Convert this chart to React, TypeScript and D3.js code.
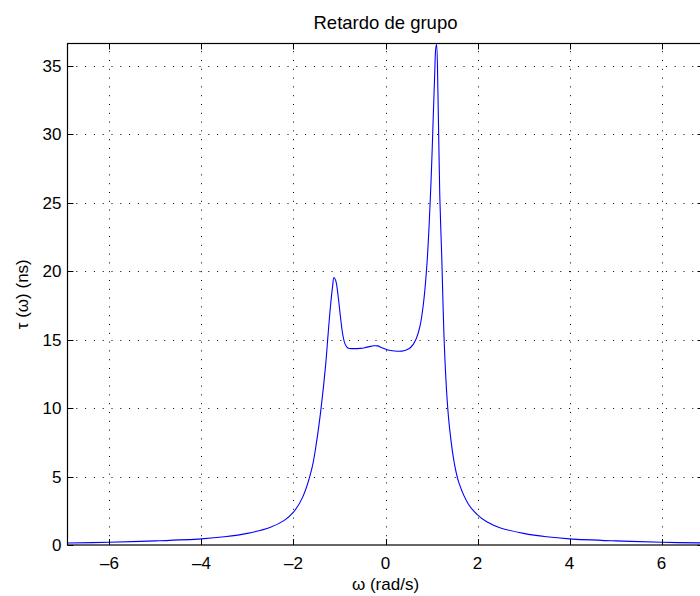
import React, { useEffect, useRef } from 'react';
import * as d3 from 'd3';

// frequency (rad/s) and group delay (ns)
const omega = [
  -6.91, -6, -5, -4, -3.5, -3, -2.5, -2.2, -2, -1.8, -1.6, -1.5, -1.4, -1.3, -1.25, -1.2,
  -1.15, -1.12, -1.08, -1.03, -0.98, -0.93, -0.88, -0.82, -0.7, -0.55, -0.45, -0.35, -0.25,
  -0.17, -0.08, 0.05, 0.2, 0.35, 0.45, 0.55, 0.65, 0.75, 0.83, 0.9, 0.95, 1.0, 1.04, 1.07,
  1.09, 1.11, 1.14, 1.18, 1.22, 1.28, 1.34, 1.4, 1.5, 1.6, 1.8, 2.0, 2.2, 2.5, 3, 3.5, 4, 5,
  6, 6.91,
];
const tau = [
  0.15, 0.2, 0.3, 0.45, 0.6, 0.85, 1.3, 1.8, 2.4, 3.5, 5.6, 7.5, 10.0, 13.2, 15.3, 17.3,
  18.9, 19.55, 19.3, 18.2, 16.7, 15.4, 14.7, 14.4, 14.35, 14.37, 14.42, 14.5, 14.56,
  14.55, 14.42, 14.25, 14.18, 14.17, 14.25, 14.45, 14.95, 16.0, 17.8, 20.5, 23.5, 27.5, 31.5, 34.5,
  36.2, 36.6, 33.0, 25.5, 21.3, 14.5, 10.6, 8.3, 5.9, 4.5, 3.0, 2.2, 1.7, 1.25, 0.85, 0.6, 0.45, 0.3,
  0.2, 0.15,
];
const xTicks = [-6, -4, -2, 0, 2, 4, 6];
const yTicks = [0, 5, 10, 15, 20, 25, 30, 35];

const W = 700;
const H = 596;
const margin = { left: 67.5, right: -3.5, top: 43.5, bottom: 51 };
const font = '"Liberation Sans", Arial, Helvetica, sans-serif';

const App = () => {
  const svgRef = useRef(null);

  useEffect(() => {
    const svg = d3.select(svgRef.current);
    svg.selectAll('*').remove();

    const x0 = margin.left;
    const x1 = W - margin.right;
    const y0 = H - margin.bottom;
    const y1 = margin.top;

    const x = d3.scaleLinear().domain([-2.2 * Math.PI, 2.2 * Math.PI]).range([x0, x1]);
    const y = d3.scaleLinear().domain([0, 36.65]).range([y0, y1]);

    svg.append('rect').attr('width', W).attr('height', H).attr('fill', '#fff');

    // grid
    const grid = svg.append('g').attr('stroke', '#000').attr('stroke-width', 1)
      .attr('stroke-dasharray', '1,7.8');
    grid.selectAll('.gx').data(xTicks).enter().append('line')
      .attr('x1', (d) => Math.round(x(d)) + 0.5).attr('x2', (d) => Math.round(x(d)) + 0.5)
      .attr('y1', y0).attr('y2', y1);
    grid.selectAll('.gy').data(yTicks.slice(1)).enter().append('line')
      .attr('y1', (d) => Math.round(y(d)) + 0.5).attr('y2', (d) => Math.round(y(d)) + 0.5)
      .attr('x1', x0).attr('x2', x1);

    // curve
    const line = d3.line<number>()
      .x((d) => x(omega[d]))
      .y((d) => y(tau[d]))
      .curve(d3.curveCatmullRom.alpha(0.5));
    svg.append('path')
      .datum(d3.range(omega.length))
      .attr('d', line)
      .attr('fill', 'none')
      .attr('stroke', '#0000ff')
      .attr('stroke-width', 1.1);

    // ticks (inward, on all four sides)
    const tk = svg.append('g').attr('stroke', '#000').attr('stroke-width', 1);
    xTicks.forEach((t) => {
      const px = Math.round(x(t)) + 0.5;
      tk.append('line').attr('x1', px).attr('x2', px).attr('y1', y0).attr('y2', y0 - 6);
      tk.append('line').attr('x1', px).attr('x2', px).attr('y1', y1).attr('y2', y1 + 6);
    });
    yTicks.forEach((t) => {
      const py = Math.round(y(t)) + 0.5;
      tk.append('line').attr('x1', x0).attr('x2', x0 + 6).attr('y1', py).attr('y2', py);
      tk.append('line').attr('x1', x1).attr('x2', x1 - 6).attr('y1', py).attr('y2', py);
    });

    // axes box
    svg.append('rect')
      .attr('x', x0).attr('y', y1).attr('width', x1 - x0).attr('height', y0 - y1)
      .attr('fill', 'none').attr('stroke', '#000').attr('stroke-width', 1.2);

    // tick labels
    const labels = svg.append('g').attr('font-family', font).attr('font-size', 17).attr('fill', '#000');
    labels.selectAll('.xl').data(xTicks).enter().append('text')
      .attr('x', (d) => x(d)).attr('y', y0 + 24)
      .attr('text-anchor', 'middle')
      .text((d) => (d < 0 ? '\u2013' + Math.abs(d) : String(d)));
    labels.selectAll('.yl').data(yTicks).enter().append('text')
      .attr('x', x0 - 6).attr('y', (d) => y(d) + 6)
      .attr('text-anchor', 'end')
      .text((d) => String(d));

    // title and axis labels
    svg.append('text').attr('x', (x0 + x1) / 2).attr('y', 29)
      .attr('text-anchor', 'middle').attr('font-family', font).attr('font-size', 18.5)
      .text('Retardo de grupo');
    svg.append('text').attr('x', (x0 + x1) / 2).attr('y', 590)
      .attr('text-anchor', 'middle').attr('font-family', font).attr('font-size', 17)
      .text('\u03c9 (rad/s)');
    svg.append('text')
      .attr('transform', `translate(28,${(y0 + y1) / 2}) rotate(-90)`)
      .attr('text-anchor', 'middle').attr('font-family', font).attr('font-size', 17)
      .text('\u03c4 (\u03c9) (ns)');
  }, []);

  return (
    <svg ref={svgRef} width={W} height={H}
      style={{ position: 'absolute', left: 0, top: 0, display: 'block' }} />
  );
};

export default App;
